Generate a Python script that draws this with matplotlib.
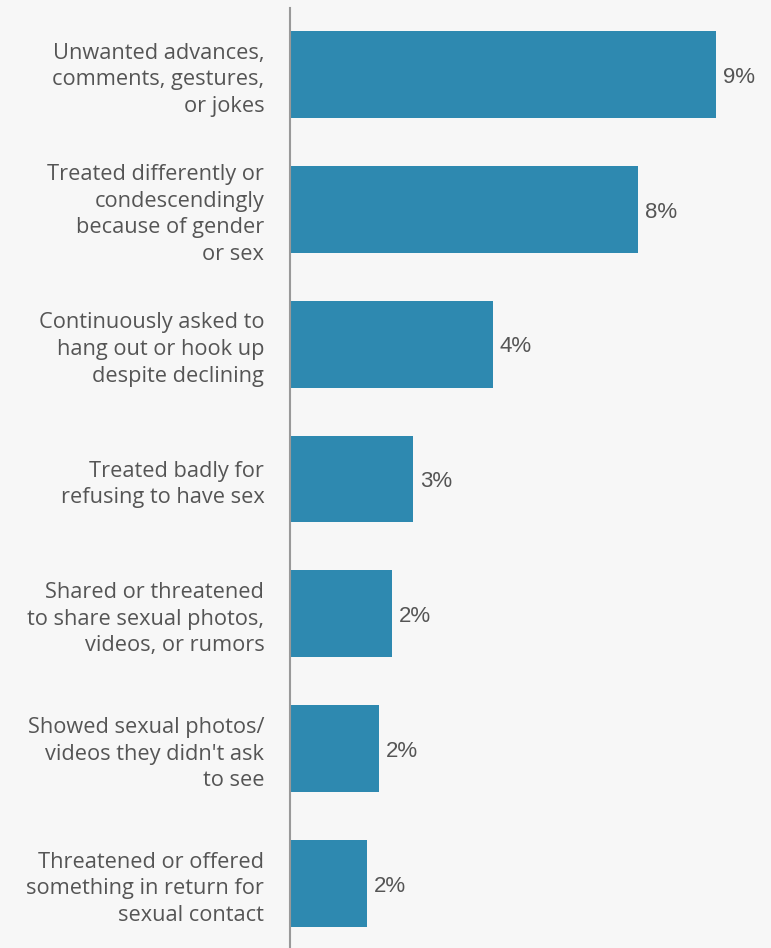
import matplotlib
matplotlib.use("Agg")
import matplotlib.pyplot as plt

categories = [
    "Unwanted advances,\ncomments, gestures,\nor jokes",
    "Treated differently or\ncondescendingly\nbecause of gender\nor sex",
    "Continuously asked to\nhang out or hook up\ndespite declining",
    "Treated badly for\nrefusing to have sex",
    "Shared or threatened\nto share sexual photos,\nvideos, or rumors",
    "Showed sexual photos/\nvideos they didn't ask\nto see",
    "Threatened or offered\nsomething in return for\nsexual contact",
]
values = [9.36, 7.65, 4.46, 2.70, 2.24, 1.96, 1.69]

bg = "#f7f7f7"
bar_color = "#2e89b0"
text_color = "#555555"

fig = plt.figure(figsize=(7.71, 9.48), dpi=100, facecolor=bg)
ax = fig.add_axes([290 / 771, 0, 1 - 290 / 771, 940 / 948])
ax.set_facecolor(bg)

ypos = list(range(len(categories)))
ax.barh(ypos, values, height=0.645, color=bar_color, edgecolor="none")

ax.set_xlim(0, 481 / 45.5)
ax.set_ylim(6.478, -0.493)

for y, v in zip(ypos, values):
    ax.text(v + 0.15, y + 0.02, f"{v:.0f}%", va="center", ha="left",
            fontsize=16, color=text_color, family="Liberation Sans")

ax.set_yticks(ypos)
ax.set_yticklabels(categories, fontsize=15.7, color=text_color,
                   family="Open Sans", linespacing=1.35)
ax.tick_params(axis="y", length=0, pad=18.5)
ax.set_xticks([])

for side in ["top", "right", "bottom"]:
    ax.spines[side].set_visible(False)
ax.spines["left"].set_color("#999999")
ax.spines["left"].set_linewidth(1.5)

fig.savefig("out.png", dpi=100, facecolor=bg)
